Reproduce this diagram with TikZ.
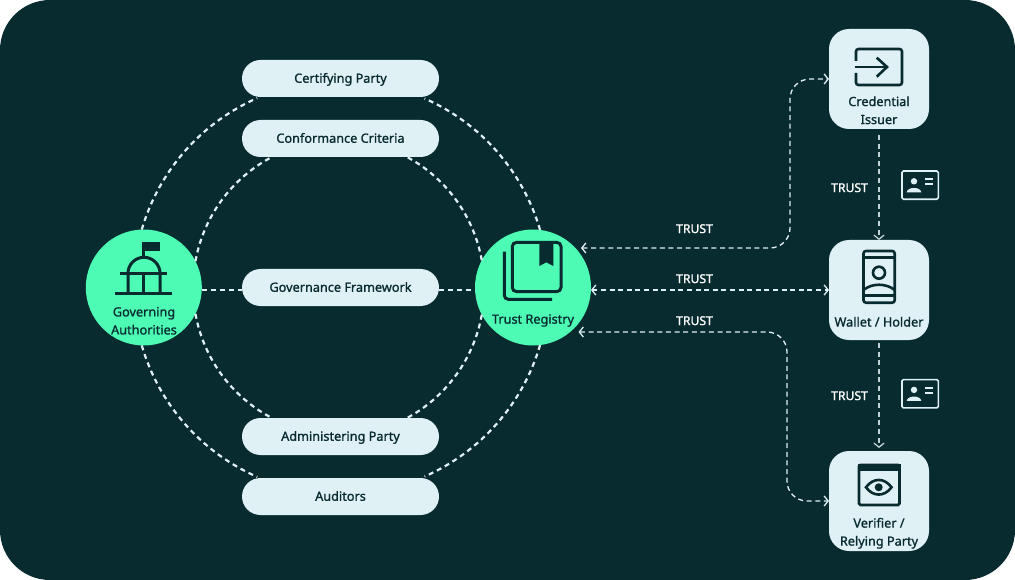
\documentclass[tikz,border=0pt]{standalone}
\usepackage{fontspec}
\setmainfont{Noto Sans}[FakeBold=1.2]
\usetikzlibrary{arrows.meta}
\definecolor{bgdark}{HTML}{082B30}
\definecolor{mint}{HTML}{4DFBB4}
\definecolor{pale}{HTML}{DFF1F5}
\tikzset{
  pill/.style={fill=pale,rounded corners=18.5pt,minimum width=197pt,minimum height=37pt,inner sep=0pt,outer sep=0pt,text=bgdark,text height=10.5pt,text depth=2pt,font=\fontsize{12.7}{18}\selectfont},
  hub/.style={circle,fill=mint,minimum size=116pt,inner sep=0pt,outer sep=0pt},
  tile/.style={fill=pale,rounded corners=20pt,minimum size=100pt,inner sep=0pt,outer sep=0pt},
  captext/.style={text=bgdark,align=center,inner sep=0pt,font=\fontsize{12.7}{18}\selectfont},
  trustlabel/.style={text=white,inner sep=0pt,font=\fontsize{12.2}{14}\selectfont},
  ring/.style={draw=pale,line width=2.2pt,dash pattern=on 5pt off 4pt},
  link/.style={draw=pale,line width=1.3pt,dash pattern=on 5pt off 3.6pt,{Straight Barb[length=4pt,width=10pt]}-{Straight Barb[length=4pt,width=10pt]}},
  linkone/.style={draw=pale!85!bgdark,line width=1.3pt,dash pattern=on 5pt off 3.6pt,-{Straight Barb[length=4pt,width=10pt]}},
  iconline/.style={draw=bgdark,line width=3pt},
  cardline/.style={draw=pale,line width=1.6pt},
}
\begin{document}
\begin{tikzpicture}[x=1pt,y=1pt,yscale=-1]
\useasboundingbox (0,0) rectangle (1015,580);
\fill[bgdark,rounded corners=50pt] (0,0) rectangle (1015,580);

% nodes
\node[hub] (gov) at (143.8,287.5) {};
\node[hub] (trust) at (533,287.5) {};
\node[pill] (cert) at (340.5,78.5) {Certifying Party};
\node[pill] (conf) at (340.5,138.5) {Conformance Criteria};
\node[pill] (frame) at (340.5,287.5) {Governance Framework};
\node[pill] (admin) at (340.5,436.5) {Administering Party};
\node[pill] (audit) at (340.5,496.5) {Auditors};
\node[tile] (issuer) at (879,79) {};
\node[tile] (wallet) at (879,290) {};
\node[tile] (verifier) at (879,501) {};

\node[captext] (govtext) at (144,320.8) {Governing\\Authorities};
\node[captext] (trusttext) at (533,320.5) {Trust Registry};
\node[captext] (issuertext) at (879,110.3) {Credential\\Issuer};
\node[captext] (wallettext) at (879,321.8) {Wallet / Holder};
\node[captext] (verifiertext) at (879,533.3) {Verifier /\\Relying Party};

\node[trustlabel] (t1) at (694.5,228.7) {TRUST};
\node[trustlabel] (t2) at (694.5,278.7) {TRUST};
\node[trustlabel] (t3) at (694.5,320.7) {TRUST};
\node[trustlabel] (t4) at (849.5,187.7) {TRUST};
\node[trustlabel] (t5) at (849.5,395.7) {TRUST};

% rings (centre 340,288)
\draw[ring] (gov.92) arc[start angle=196.3,end angle=246.3,radius=207];
\draw[ring] (gov.-92) arc[start angle=163.7,end angle=113.7,radius=207];
\draw[ring] (trust.83) arc[start angle=343.7,end angle=293.7,radius=207];
\draw[ring] (trust.-83) arc[start angle=16.3,end angle=66.3,radius=207];
\draw[ring] (gov.27) arc[start angle=190.2,end angle=242.4,radius=147];
\draw[ring] (gov.-27) arc[start angle=169.8,end angle=117.6,radius=147];
\draw[ring] (trust.152) arc[start angle=349.8,end angle=297.6,radius=147];
\draw[ring] (trust.-152) arc[start angle=10.2,end angle=62.4,radius=147];
\coordinate (midline) at (340,290);
\draw[ring] (gov.east |- midline) -- (frame.west |- midline);
\draw[ring] (frame.east |- midline) -- (trust.west |- midline);

% trust links
\coordinate (tipa) at (581,248);
\coordinate (raila) at (790,160);
\coordinate (tipc) at (578.5,332);
\coordinate (railc) at (787,420);
\draw[link,rounded corners=20pt] (tipa) -| (raila) |- (issuer.west);
\draw[link] (trust.east |- wallet.west) -- (wallet.west);
\draw[link,rounded corners=20pt] (tipc) -| (railc) |- (verifier.west);
\draw[linkone,shorten <=6pt] (issuer.south) -- (wallet.north);
\draw[linkone,shorten <=3pt,shorten >=3pt] (wallet.south) -- (verifier.north);

% government icon
\fill[bgdark] (141.7,241.7) rectangle (160,251);
\draw[iconline] (143.7,241.7) -- (143.7,256.5);
\draw[iconline] (128,293) -- (128,273.3) arc[start angle=180,end angle=360,radius=16] -- (160,293);
\draw[iconline] (143.7,273.3) -- (143.7,293);
\draw[iconline] (120,273.5) -- (167,273.5);
\draw[iconline] (115,293) -- (172,293);

% registry icon
\draw[iconline,rounded corners=4pt] (512.3,242.5) rectangle (561,291.5);
\draw[iconline,rounded corners=4pt] (504.3,251.7) -- (504.3,299.3) -- (552,299.3);
\fill[bgdark] (539.3,242) -- (553.3,242) -- (553.3,266) -- (546.3,262.3) -- (539.3,266) -- cycle;

% issuer icon
\draw[iconline,line width=2.6pt,rounded corners=2.5pt] (856,61) -- (856,49) -- (902,49) -- (902,85) -- (856,85) -- (856,73);
\draw[iconline,line width=2.6pt] (855,67) -- (886,67);
\draw[iconline,line width=2.6pt] (876.7,57.7) -- (887,67) -- (876.7,76.7);

% wallet icon
\draw[iconline,line width=2.6pt,rounded corners=2.5pt] (863.5,251) rectangle (894.7,302.7);
\draw[iconline,line width=2.6pt] (863.5,257.3) -- (894.7,257.3);
\draw[iconline,line width=2.6pt] (863.5,295.7) -- (894.7,295.7);
\draw[iconline,line width=2.6pt] (879,272.7) circle[radius=6];
\draw[iconline,line width=2.6pt] (863.5,290) .. controls (872,283) and (886,283) .. (894.7,290);

% verifier icon
\draw[iconline,line width=2.6pt,rounded corners=1.5pt] (859,465) rectangle (899.5,505);
\fill[bgdark] (858,464) rectangle (900.5,471);
\draw[iconline,line width=2.6pt] (866,487.3) .. controls (873,477.5) and (884.5,477.5) .. (891.5,487.3) .. controls (884.5,497) and (873,497) .. (866,487.3) -- cycle;
\fill[bgdark] (878.7,487.3) circle[radius=4];

% id cards
\foreach \dy in {0,208.6}{
  \begin{scope}[shift={(0,\dy)}]
    \draw[cardline,rounded corners=1.5pt] (902,171) rectangle (938.3,199.3);
    \fill[pale] (914,181.3) circle[radius=3.2];
    \fill[pale] (906.7,192.3) .. controls (907.5,186.5) and (920.5,186.5) .. (921.3,192.3) -- cycle;
    \draw[cardline] (925.3,179.3) -- (933.3,179.3);
    \draw[cardline] (925.3,184.3) -- (933.3,184.3);
  \end{scope}
}
\end{tikzpicture}
\end{document}
